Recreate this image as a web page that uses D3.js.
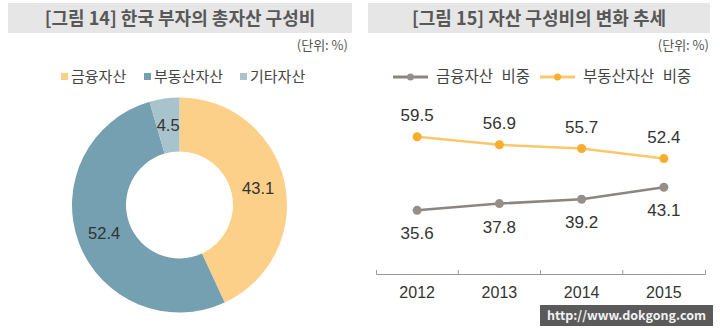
<!DOCTYPE html>
<html>
<head>
<meta charset="utf-8">
<script src="https://d3js.org/d3.v7.min.js"></script>
<style>
  body { margin: 0; background: #fff; }
  text { font-family: "Noto Sans CJK KR", "Noto Sans", sans-serif; }
  .num { font-family: "Liberation Sans", Arial, sans-serif; }
</style>
</head>
<body>
<svg id="vis" width="720" height="331"></svg>
<script>
// data
var pieCats = ["금융자산", "부동산자산", "기타자산"];
var pieValues = [43.1, 52.4, 4.5];
var pieColors = ["#fdd08a", "#74a0b1", "#a9c3cc"];

var years = ["2012", "2013", "2014", "2015"];
var financeShare = [35.6, 37.8, 39.2, 43.1];
var realEstateShare = [59.5, 56.9, 55.7, 52.4];
var lineNames = ["금융자산 비중", "부동산자산 비중"];

var svg = d3.select("#vis");

// ---- title bars
function titleBar(x0, x1, label) {
  svg.append("rect").attr("x", x0).attr("y", 3).attr("width", x1 - x0).attr("height", 30)
    .attr("fill", "#e6e6e6");
  svg.append("text").attr("x", (x0 + x1) / 2).attr("y", 25)
    .attr("text-anchor", "middle").attr("font-size", 18).attr("font-weight", "bold")
    .attr("fill", "#585858").text(label);
}
titleBar(8, 352, "[그림 14] 한국 부자의 총자산 구성비");
titleBar(368, 710, "[그림 15] 자산 구성비의 변화 추세");

// unit labels
[348, 709].forEach(function(x) {
  svg.append("text").attr("x", x).attr("y", 50).attr("text-anchor", "end")
    .attr("font-size", 13).attr("fill", "#555").text("(단위: %)");
});

// ---- donut
var pieG = svg.append("g").attr("transform", "translate(179.5,205)");
var pie = d3.pie().sort(null).value(function(d) { return d; });
var arc = d3.arc().innerRadius(53.5).outerRadius(107.5);
var labelArc = d3.arc().innerRadius(80.5).outerRadius(80.5);
var arcs = pie(pieValues);

pieG.selectAll("path").data(arcs).enter().append("path")
  .attr("d", arc)
  .attr("fill", function(d, i) { return pieColors[i]; });

pieG.selectAll("text.lbl").data(arcs).enter().append("text")
  .attr("class", "lbl num")
  .attr("transform", function(d) { return "translate(" + labelArc.centroid(d) + ")"; })
  .attr("text-anchor", "middle").attr("dy", "0.36em")
  .attr("font-size", 16.5).attr("fill", "#333")
  .text(function(d) { return d.data.toFixed(1); });

// donut legend
var legX = [61, 144, 240];
pieCats.forEach(function(c, i) {
  svg.append("rect").attr("x", legX[i]).attr("y", 73).attr("width", 7).attr("height", 7)
    .attr("fill", pieColors[i]);
  svg.append("text").attr("x", legX[i] + 10).attr("y", 82)
    .attr("font-size", 15).attr("fill", "#444").text(c);
});

// ---- line chart
var x = d3.scaleBand().domain(years).range([376, 705]);
var y = d3.scaleLinear().domain([20, 60]).range([258.4, 135.2]);
var cx = function(d, i) { return x(years[i]) + x.bandwidth() / 2; };

// order matches the legend: finance first, real estate second
var series = [
  { vals: financeShare, line: "#8d8680", dot: "#958e89", dy: 23 },
  { vals: realEstateShare, line: "#fbc76c", dot: "#f7ae2f", dy: -22 }
];

var line = d3.line().x(cx).y(function(d) { return y(d); });

series.forEach(function(s) {
  svg.append("path").datum(s.vals).attr("d", line)
    .attr("fill", "none").attr("stroke", s.line).attr("stroke-width", 2.5);
  svg.selectAll(null).data(s.vals).enter().append("circle")
    .attr("cx", cx).attr("cy", function(d) { return y(d); })
    .attr("r", 4.5).attr("fill", s.dot);
  svg.selectAll(null).data(s.vals).enter().append("text")
    .attr("class", "num")
    .attr("x", cx).attr("y", function(d) { return y(d) + s.dy; })
    .attr("dy", "0.36em").attr("text-anchor", "middle")
    .attr("font-size", 17).attr("fill", "#333")
    .text(function(d) { return d.toFixed(1); });
});

// x axis: ticks at band boundaries pointing up
var axisG = svg.append("g").attr("transform", "translate(0,274)")
  .call(d3.axisBottom(x).tickSize(0).tickSizeOuter(-4).tickPadding(13));
axisG.select(".domain").attr("stroke", "#999");
axisG.selectAll("text").attr("class", "num").attr("font-size", 16).attr("fill", "#333");
axisG.selectAll("line.bnd").data(years.slice(1)).enter().append("line")
  .attr("class", "bnd")
  .attr("x1", function(d) { return x(d); }).attr("x2", function(d) { return x(d); })
  .attr("y1", 0).attr("y2", -4).attr("stroke", "#999");

// line legend
series.forEach(function(s, i) {
  var lx = [393, 540][i];
  svg.append("line").attr("x1", lx).attr("x2", lx + 35).attr("y1", 77).attr("y2", 77)
    .attr("stroke", s.line).attr("stroke-width", 3);
  svg.append("circle").attr("cx", lx + 17.5).attr("cy", 77).attr("r", 3.5).attr("fill", s.dot);
  svg.append("text").attr("x", lx + 43).attr("y", 82)
    .attr("font-size", 15.5).attr("word-spacing", 5).attr("fill", "#444").text(lineNames[i]);
});

// watermark
svg.append("rect").attr("x", 540).attr("y", 305).attr("width", 173).attr("height", 21)
  .attr("fill", "#5a5a5a");
svg.append("text").attr("x", 626.5).attr("y", 320).attr("text-anchor", "middle")
  .attr("font-family", "DejaVu Sans Mono, monospace").attr("font-weight", "bold")
  .attr("font-size", 12.5).attr("fill", "#f2f2f2").text("http://www.dokgong.com");
</script>
</body>
</html>
